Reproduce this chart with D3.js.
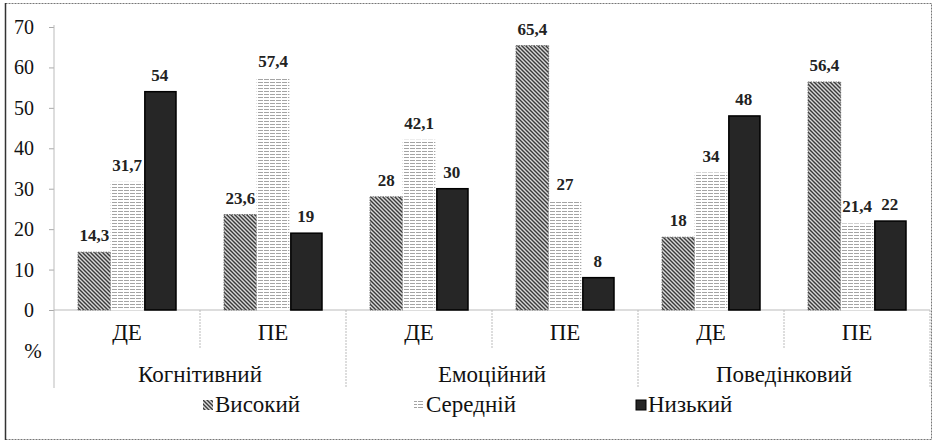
<!DOCTYPE html>
<html>
<head>
<meta charset="utf-8">
<script src="https://cdn.jsdelivr.net/npm/d3@7"></script>
</head>
<body style="margin:0">
<script>
const groups = ["Когнітивний", "Емоційний", "Поведінковий"];
const stages = ["ДЕ", "ПЕ"];
const seriesNames = ["Високий", "Середній", "Низький"];
const high = [14.3, 23.6, 28, 65.4, 18, 56.4];
const middle = [31.7, 57.4, 42.1, 27, 34, 21.4];
const low = [54, 19, 30, 8, 48, 22];
const yTicks = [0, 10, 20, 30, 40, 50, 60, 70];

const width = 934, height = 443;
const FONT = '"Liberation Serif"';
const svg = d3.select("body").append("svg").attr("width", width).attr("height", height);

// patterns for the three series
const defs = svg.append("defs");
const pHigh = defs.append("pattern").attr("id", "p-high")
  .attr("patternUnits", "userSpaceOnUse").attr("width", 4).attr("height", 4);
pHigh.append("rect").attr("width", 4).attr("height", 4).attr("fill", "#d8d8d8");
pHigh.append("path").attr("d", "M-1,-1 L5,5 M-1,3 L1,5 M3,-1 L5,1")
  .attr("stroke", "#3a3a3a").attr("stroke-width", 1.4);

const pMid = defs.append("pattern").attr("id", "p-mid")
  .attr("patternUnits", "userSpaceOnUse").attr("width", 6).attr("height", 3);
pMid.append("rect").attr("width", 6).attr("height", 3).attr("fill", "#fff");
pMid.append("line").attr("x1", 0).attr("x2", 6).attr("y1", 1.5).attr("y2", 1.5)
  .attr("stroke", "#9a9a9a").attr("stroke-width", 0.9).attr("stroke-dasharray", "3,1");

const fills = ["url(#p-high)", "url(#p-mid)", "#262626"];
const strokes = ["#555", "none", "#000"];

// frame
svg.append("rect").attr("x", 5.5).attr("y", 3.5).attr("width", 926).attr("height", 436)
  .attr("fill", "none").attr("stroke", "#777").attr("stroke-width", 1).attr("stroke-dasharray", "2,1");
svg.append("line").attr("x1", 5.5).attr("x2", 5.5).attr("y1", 3).attr("y2", 440)
  .attr("stroke", "#333").attr("stroke-width", 1.5);

const cats = [];
groups.forEach(g => stages.forEach(s => cats.push(g + "|" + s)));

const data = cats.map((c, i) => ({cat: c, values: [high[i], middle[i], low[i]]}));

const x0 = d3.scaleBand().domain(cats).range([54, 930]).padding(0);
const x1 = d3.scaleBand().domain(seriesNames).range([24, x0.bandwidth() - 24]).padding(0);
const y = d3.scaleLinear().domain([0, 70]).range([310, 27]);

// y axis: tick marks from d3, labels drawn as plain texts
const yAxis = svg.append("g").attr("transform", "translate(54,0)")
  .call(d3.axisLeft(y).tickValues(yTicks).tickSize(5).tickFormat(""));
yAxis.select(".domain").remove();
yAxis.selectAll(".tick line").attr("stroke", "#aaa");
yAxis.selectAll(".tick text").remove();

svg.append("g").selectAll("text").data(yTicks).join("text")
  .attr("x", 34)
  .attr("y", d => y(d) + 7)
  .attr("text-anchor", "end")
  .style("font-family", FONT).style("font-size", "20px")
  .attr("fill", "#111")
  .text(d => d);

svg.append("line").attr("x1", 54).attr("x2", 54).attr("y1", 25).attr("y2", 388)
  .attr("stroke", "#bbb").attr("stroke-width", 1);

// x baseline
svg.append("line").attr("x1", 54).attr("x2", 930).attr("y1", y(0)).attr("y2", y(0))
  .attr("stroke", "#bbb").attr("stroke-width", 1);

// bars
const bars = svg.append("g").selectAll("g").data(data).join("g")
  .attr("transform", d => `translate(${x0(d.cat)},0)`);

bars.selectAll("rect").data(d => d.values.map((v, k) => ({k, v})))
  .join("rect")
    .attr("x", d => x1(seriesNames[d.k]) + (d.k === 2 ? 1.5 : 0))
    .attr("width", d => x1.bandwidth() - (d.k === 2 ? 1.5 : 0))
    .attr("y", d => y(d.v))
    .attr("height", d => y(0) - y(d.v))
    .attr("fill", d => fills[d.k])
    .attr("stroke", d => strokes[d.k])
    .attr("stroke-width", d => d.k === 2 ? 1.5 : 0.8)
    .attr("stroke-dasharray", d => d.k === 0 ? "1.5,1" : null);

bars.selectAll("text").data(d => d.values.map((v, k) => ({k, v})))
  .join("text")
    .attr("x", d => x1(seriesNames[d.k]) + x1.bandwidth() / 2)
    .attr("y", d => y(d.v) - 11)
    .attr("text-anchor", "middle")
    .style("font-family", FONT)
    .style("font-size", "17px")
    .style("font-weight", "bold")
    .attr("fill", "#222")
    .text(d => String(d.v).replace(".", ","));

// stage labels and separators
cats.forEach((c, i) => {
  svg.append("text")
    .attr("x", x0(c) + x0.bandwidth() / 2)
    .attr("y", 340)
    .attr("text-anchor", "middle")
    .style("font-family", FONT)
    .style("font-size", "23px")
    .attr("fill", "#111")
    .text(c.split("|")[1]);
  const xr = x0(c) + x0.bandwidth();
  const full = i % 2 === 1;
  svg.append("line").attr("x1", xr).attr("x2", xr)
    .attr("y1", y(0)).attr("y2", full ? 388 : 348)
    .attr("stroke", "#bbb").attr("stroke-width", 1).attr("stroke-dasharray", "2,1");
});

groups.forEach((g, i) => {
  const xs = x0(g + "|" + stages[0]);
  svg.append("text")
    .attr("x", xs + x0.bandwidth())
    .attr("y", 382)
    .attr("text-anchor", "middle")
    .style("font-family", FONT)
    .style("font-size", "23px")
    .attr("fill", "#111")
    .text(g);
});

svg.append("text").attr("x", 33).attr("y", 358).attr("text-anchor", "middle")
  .style("font-family", FONT).style("font-size", "21px").attr("fill", "#111").text("%");

// legend
const legendX = [203, 414, 636];
const legend = svg.append("g").selectAll("g").data(seriesNames).join("g")
  .attr("transform", (d, i) => `translate(${legendX[i]},400)`);
legend.append("rect").attr("width", 10).attr("height", 10)
  .attr("fill", (d, i) => fills[i]).attr("stroke", (d, i) => i === 2 ? "#000" : "none");
legend.append("text").attr("x", 12).attr("y", 12)
  .style("font-family", FONT).style("font-size", "23px").attr("fill", "#111").text(d => d);
</script>
</body>
</html>
